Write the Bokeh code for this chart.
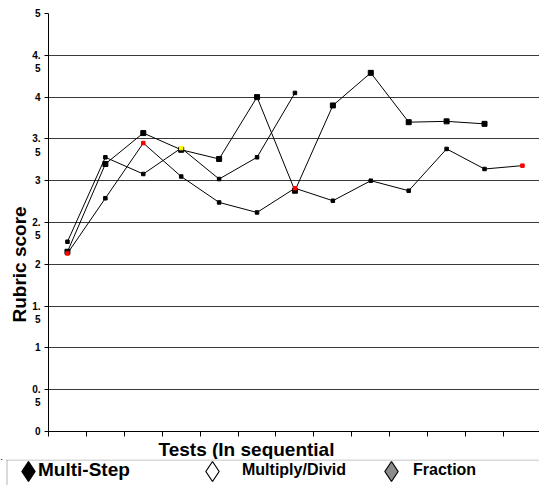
from bokeh.embed import file_html
from bokeh.layouts import column
from bokeh.models import (BoxAnnotation, ColumnDataSource, FixedTicker, Legend, LegendItem,
                          Range1d, Title)
from bokeh.plotting import figure
from bokeh.resources import INLINE

# Rubric scores per test, in the order the tests were given
tests = list(range(1, 14))
multi_step = [2.15, 3.20, 3.57, 3.37, 3.26, 4.00, 2.88, 3.90, 4.29, 3.70, 3.71, 3.68]
multiply_divide = [2.27, 3.28, 3.08, 3.39, 3.02, 3.28, 4.05]
fraction = [2.13, 2.79, 3.45, 3.05, 2.74, 2.62, 2.91, 2.76, 3.00, 2.88, 3.38, 3.14, 3.18]

series_names = ["Multi-Step", "Multiply/Divid", "Fraction"]
y_ticks = [0, 0.5, 1, 1.5, 2, 2.5, 3, 3.5, 4, 4.5, 5]
y_tick_labels = ["0", "0.\n5", "1", "1.\n5", "2", "2.\n5", "3", "3.\n5", "4", "4.\n5", "5"]

FONT = "Liberation Sans"
W = 539

# marker styling: size per series, plus a few points picked out in colour
marker_size = {"Multi-Step": 5, "Multiply/Divid": 3.5, "Fraction": 3.5}
marker_accent = {("Fraction", 1): "red", ("Fraction", 3): "red", ("Fraction", 7): "red",
                 ("Fraction", 13): "red", ("Multiply/Divid", 4): "yellow"}

p = figure(
    width=W, height=459,
    x_range=Range1d(0.5, 13.45), y_range=Range1d(0, 5),
    output_backend="svg", toolbar_location=None,
    min_border_left=48, min_border_right=0, min_border_top=13, min_border_bottom=28,
)
p.frame_align = False
p.outline_line_color = None

# y axis: half-point ticks, labels wrapped onto two lines like "4." / "5"
p.yaxis.ticker = FixedTicker(ticks=y_ticks)
p.yaxis.major_label_overrides = {
    t: (" \n" + lab if "\n" in lab else lab) for t, lab in zip(y_ticks, y_tick_labels)
}
p.yaxis.major_label_text_font = FONT
p.yaxis.major_label_text_font_style = "bold"
p.yaxis.major_label_text_font_size = "10px"
p.yaxis.major_label_text_color = "black"
p.yaxis.major_label_standoff = 4
p.yaxis.major_tick_out = 4
p.yaxis.major_tick_in = 0
p.yaxis.minor_tick_line_color = None
p.yaxis.axis_line_color = "black"

# x axis: tick marks between tests, no tick labels
p.xaxis.ticker = FixedTicker(ticks=[t - 0.5 for t in tests] + [tests[-1] + 0.5])
p.xaxis.major_label_text_font_size = "0px"
p.xaxis.major_label_standoff = 0
p.xaxis.major_tick_out = 5
p.xaxis.major_tick_in = 0
p.xaxis.minor_tick_line_color = None
p.xaxis.axis_line_color = "black"

p.xgrid.grid_line_color = None
p.ygrid.grid_line_color = "#3a3a3a"
p.ygrid.grid_line_width = 1.2

# axis titles (placed off-centre along their axes)
p.add_layout(
    Title(text="Tests (In sequential", align="left", offset=110,
          text_font=FONT, text_font_style="bold", text_font_size="19px",
          text_color="black", standoff=0),
    "below",
)
p.add_layout(
    Title(text="Rubric score", align="left", offset=109,
          text_font=FONT, text_font_style="bold", text_font_size="19px",
          text_color="black", standoff=0),
    "left",
)

# the three score series
sources = {}
for name, values in zip(series_names, (multi_step, multiply_divide, fraction)):
    xs = tests[:len(values)]
    colors = [marker_accent.get((name, x), "black") for x in xs]
    sources[name] = ColumnDataSource(dict(x=xs, y=values, c=colors))

for name in series_names:
    src = sources[name]
    p.line("x", "y", source=src, line_color="black", line_width=1)
    p.scatter("x", "y", source=src, marker="square", size=marker_size[name],
              fill_color="c", line_color="c")

# legend strip under the chart (y range kept below the score values,
# so the swatch renderers only show inside the legend)
lg = figure(width=W, height=26, x_range=Range1d(0, W), y_range=Range1d(-26, 0),
            x_axis_type=None, y_axis_type=None, output_backend="svg",
            toolbar_location=None, min_border=0)
lg.frame_align = False
lg.outline_line_color = None
lg.grid.grid_line_color = None
lg.add_layout(BoxAnnotation(left=6.5, right=W + 20, bottom=-60, top=-0.5,
                            fill_color=None, line_color="black", line_width=1))

swatches = [
    lg.scatter("x", "y", source=sources[name], marker="diamond",
               fill_color=fill, line_color="black", line_width=1.2)
    for name, fill in zip(series_names, ("black", "white", "#8c8c8c"))
]
# transparent twins, used for the text-only legend entries
ghosts = [
    lg.scatter("x", "y", source=sources[name], fill_alpha=0, line_alpha=0)
    for name in series_names
]

swatch_left = [3, 187, 366]          # left edge of each diamond legend
label_left = [37, 241, 412]          # left edge of each text legend
label_size = ["19px", "16px", "16px"]

for sw, left in zip(swatches, swatch_left):
    lg.add_layout(Legend(
        items=[LegendItem(label=" ", renderers=[sw])],
        location=(left, -11), glyph_width=50, glyph_height=50,
        padding=0, margin=0, spacing=0, label_standoff=0,
        label_text_font_size="2px", border_line_color=None, background_fill_alpha=0,
    ), "center")

for name, gh, left, fsize in zip(series_names, ghosts, label_left, label_size):
    lg.add_layout(Legend(
        items=[LegendItem(label=name, renderers=[gh])],
        location=(left, 0), glyph_width=1, glyph_height=30,
        padding=0, margin=0, spacing=0, label_standoff=0,
        label_text_font=FONT, label_text_font_style="bold", label_text_font_size=fsize,
        label_text_color="black", label_text_baseline="middle",
        border_line_color=None, background_fill_alpha=0,
    ), "center")

layout = column(p, lg, spacing=0)
open("out.html", "w").write(file_html(layout, INLINE))
